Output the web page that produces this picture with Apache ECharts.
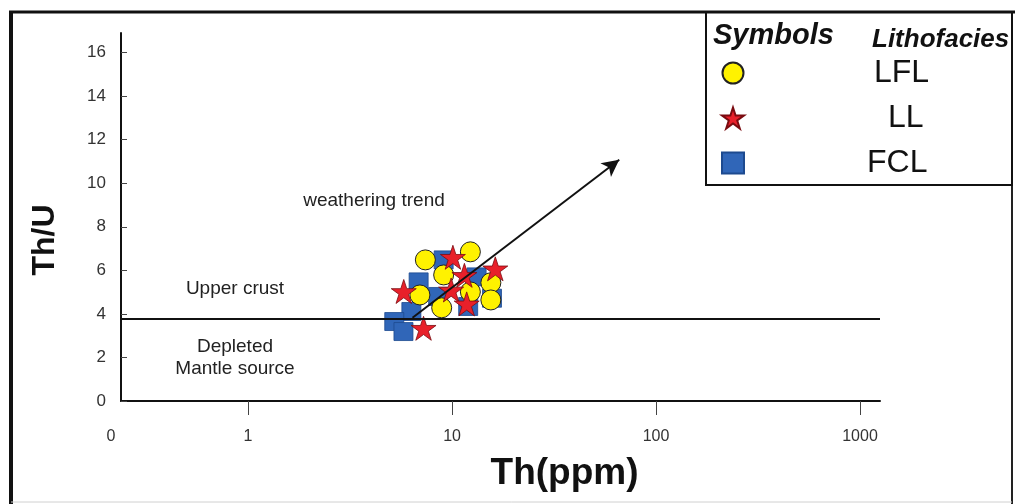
<!DOCTYPE html>
<html><head><meta charset="utf-8">
<script src="https://cdn.jsdelivr.net/npm/echarts@6/dist/echarts.min.js"></script>
<style>html,body{margin:0;padding:0;background:#fff}#c{width:1015px;height:504px}</style>
</head><body><div id="c"></div>
<script>
// ---- data ----
const xMin = 0.2384, xMax = 1253;
const yMin = 0, yMax = 16.9;
const xTickValues = [1, 10, 100, 1000];
const xLabelValues = [0.2384, 1, 10, 100, 1000];
const xTickLabels = ['0', '1', '10', '100', '1000'];
const yTickValues = [0, 2, 4, 6, 8, 10, 12, 14, 16];
const lflTh  = [7.4, 9.1, 6.96, 8.9, 12.3, 12.3, 15.5, 15.5];
const lflThU = [6.48, 5.79, 4.87, 4.28, 6.85, 5.01, 5.43, 4.64];
const llTh   = [10.1, 16.3, 5.8, 11.5, 9.9, 11.8, 7.25];
const llThU  = [6.6, 6.07, 5.03, 5.77, 5.1, 4.46, 3.34];
const fclTh  = [9.1, 6.86, 6.32, 5.21, 5.78, 8.55, 13.2, 12.0, 15.7];
const fclThU = [6.48, 5.47, 4.11, 3.65, 3.19, 4.8, 5.70, 4.34, 4.72];
const upperCrustThU = 3.8;
const trendStart = [6.4, 3.82];
const trendEnd = [66, 11.08];
// ---------------

const pair = (xs, ys) => xs.map((x, i) => [x, ys[i]]);
const STAR = 'path://M50,2 L61.8,38.2 L99.5,38.2 L69,60.5 L80.7,96.5 L50,74 L19.3,96.5 L31,60.5 L0.5,38.2 L38.2,38.2 Z';
const FONT = '"Liberation Sans", Arial, sans-serif';

function xLabel(v) {
  let best = 0, bd = Infinity;
  xLabelValues.forEach((t, i) => {
    const d = Math.abs(Math.log10(v) - Math.log10(t));
    if (d < bd) { bd = d; best = i; }
  });
  return best === 0 ? '{z|' + xTickLabels[0] + '}' : xTickLabels[best];
}

const chart = echarts.init(document.getElementById('c'), null, { renderer: 'canvas' });
chart.setOption({
  animation: false,
  backgroundColor: '#fff',
  grid: { left: 121, right: 135, top: 33, bottom: 103, containLabel: false, outerBoundsMode: 'none' },
  xAxis: {
    type: 'log', logBase: 10, min: xMin, max: xMax,
    name: 'Th(ppm)', nameLocation: 'middle', nameGap: 54, nameMoveOverlap: false,
    nameTextStyle: { fontFamily: FONT, fontWeight: 'bold', fontSize: 37, color: '#111', padding: [0, 0, 0, 128] },
    axisLine: { lineStyle: { color: '#111', width: 2 } },
    axisTick: { show: true, inside: false, length: 14, customValues: xTickValues, lineStyle: { color: '#444', width: 1 } },
    minorTick: { show: false },
    axisLabel: {
      customValues: xLabelValues, formatter: xLabel, margin: 28,
      fontFamily: FONT, fontSize: 16, color: '#333',
      rich: { z: { fontFamily: FONT, fontSize: 16, color: '#333', padding: [0, 20, 0, 0] } }
    },
    splitLine: { show: false }
  },
  yAxis: {
    type: 'value', min: yMin, max: yMax,
    name: 'Th/U', nameLocation: 'middle', nameGap: 60, nameRotate: 90, nameMoveOverlap: false,
    nameTextStyle: { fontFamily: FONT, fontWeight: 'bold', fontSize: 32, color: '#111', padding: [0, 46, 0, 0] },
    axisLine: { show: true, lineStyle: { color: '#111', width: 2 } },
    axisTick: { show: true, inside: true, length: 6, customValues: yTickValues, lineStyle: { color: '#444', width: 1 } },
    axisLabel: { customValues: yTickValues, margin: 15, fontFamily: FONT, fontSize: 17, color: '#333' },
    splitLine: { show: false }
  },
  legend: {
    data: ['LFL', 'LL', 'FCL'],
    orient: 'vertical', left: 716, top: 52,
    itemWidth: 22, itemHeight: 21, itemGap: 13,
    formatter: function (n) { return '{' + n + '|' + n + '}'; },
    textStyle: {
      fontFamily: FONT, fontSize: 32, color: '#111',
      rich: {
        LFL: { fontFamily: FONT, fontSize: 32, color: '#111', padding: [0, 0, 0, 125] },
        LL:  { fontFamily: FONT, fontSize: 32, color: '#111', padding: [0, 0, 0, 139] },
        FCL: { fontFamily: FONT, fontSize: 32, color: '#111', padding: [0, 0, 0, 118] }
      }
    },
    selectedMode: false
  },
  series: [
    {
      name: 'FCL', type: 'scatter', symbol: 'rect', symbolSize: [19, 18],
      data: pair(fclTh, fclThU),
      itemStyle: { color: '#3066b8', borderColor: '#1d4a8f', borderWidth: 0.8, opacity: 1 },
      z: 2
    },
    {
      name: 'LFL', type: 'scatter', symbol: 'circle', symbolSize: 20,
      data: pair(lflTh, lflThU),
      itemStyle: { color: '#fff200', borderColor: '#222', borderWidth: 1, opacity: 1 },
      z: 3
    },
    {
      name: 'LL', type: 'scatter', symbol: STAR, symbolSize: [25, 24],
      data: pair(llTh, llThU),
      itemStyle: { color: '#e8202a', borderColor: '#7a0b10', borderWidth: 0.8, opacity: 1 },
      z: 4
    },
    {
      name: 'lines', type: 'scatter', data: [], z: 10,
      markLine: {
        silent: true, animation: false,
        label: { show: false },
        data: [
          { yAxis: upperCrustThU, symbol: 'none', lineStyle: { color: '#111', width: 2, type: 'solid' } },
          [
            { coord: trendStart, symbol: 'none' },
            { coord: trendEnd, symbol: 'arrow', symbolSize: [13, 17] }
          ]
        ],
        lineStyle: { color: '#111', width: 2, type: 'solid' },
        symbol: ['none', 'none']
      }
    }
  ],
  graphic: [
    { type: 'line', shape: { x1: 11, y1: 11, x2: 11, y2: 504 }, style: { stroke: '#111', lineWidth: 4 }, z: 100 },
    { type: 'line', shape: { x1: 9, y1: 12, x2: 1015, y2: 12 }, style: { stroke: '#111', lineWidth: 3 }, z: 100 },
    { type: 'line', shape: { x1: 1012, y1: 11, x2: 1012, y2: 504 }, style: { stroke: '#222', lineWidth: 2 }, z: 100 },
    { type: 'line', shape: { x1: 11, y1: 502, x2: 1012, y2: 502 }, style: { stroke: '#d0d0d0', lineWidth: 1 }, z: 100 },
    { type: 'rect', shape: { x: 706, y: 12, width: 306, height: 173 }, style: { fill: 'none', stroke: '#111', lineWidth: 2 }, z: 100 },
    { type: 'text', style: { text: 'Symbols', x: 713, y: 36, font: 'italic bold 29px ' + FONT, fill: '#111', verticalAlign: 'middle' }, z: 100 },
    { type: 'text', style: { text: 'Lithofacies', x: 872, y: 40, font: 'italic bold 26px ' + FONT, fill: '#111', verticalAlign: 'middle' }, z: 100 },
    { type: 'text', style: { text: 'weathering trend', x: 374, y: 201, font: '19px ' + FONT, fill: '#222', align: 'center', verticalAlign: 'middle' } },
    { type: 'text', style: { text: 'Upper crust', x: 235, y: 289, font: '19px ' + FONT, fill: '#222', align: 'center', verticalAlign: 'middle' } },
    { type: 'text', style: { text: 'Depleted', x: 235, y: 347, font: '19px ' + FONT, fill: '#222', align: 'center', verticalAlign: 'middle' } },
    { type: 'text', style: { text: 'Mantle source', x: 235, y: 369, font: '19px ' + FONT, fill: '#222', align: 'center', verticalAlign: 'middle' } }
  ]
});
</script>
</body></html>
